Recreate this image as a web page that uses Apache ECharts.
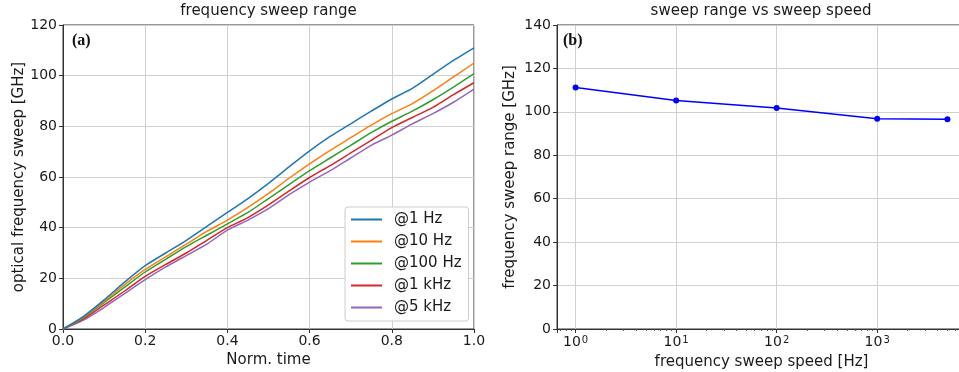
<!DOCTYPE html>
<html>
<head>
<meta charset="utf-8">
<script src="https://cdn.jsdelivr.net/npm/echarts@6/dist/echarts.min.js"></script>
<style>
  html, body { margin: 0; padding: 0; background: #fff; }
  #chart { width: 959px; height: 372px; }
</style>
</head>
<body>
<div id="chart"></div>
<script>
// panel (a): normalised time and sweep for each modulation speed
const normTime = [0, 0.05, 0.1, 0.15, 0.2, 0.25, 0.3, 0.35, 0.4, 0.45, 0.5,
  0.55, 0.6, 0.65, 0.7, 0.75, 0.8, 0.85, 0.9, 0.95, 1.0];
const sweep1Hz = [0, 5, 11.5, 18.5, 25, 30, 35, 40.5, 46, 51.5, 57.5,
  64, 70.3, 76, 81, 86, 90.8, 95, 100.5, 106, 111];
const sweep10Hz = [0, 4.8, 11, 17.5, 23.5, 28.5, 33.5, 38.5, 43, 48, 53.5,
  59.5, 65.2, 70.5, 75.5, 80.5, 85, 89, 94, 99.5, 105];
const sweep100Hz = [0, 4.5, 10.5, 16.5, 22.5, 27.5, 32.5, 37, 41.5, 46, 51.5,
  57, 62.5, 67.5, 72.5, 77.5, 82, 86, 90.5, 95.5, 100.8];
const sweep1kHz = [0, 4, 9.5, 15, 20.8, 25.5, 30, 35, 40, 44, 49,
  54.5, 59.8, 64.5, 69.5, 74.5, 79.5, 83.5, 87.5, 92.5, 97.2];
const sweep5kHz = [0, 3.5, 8.5, 14, 19.5, 24.5, 29, 33.5, 39, 43, 47.5,
  53, 58, 62.5, 67.5, 72.5, 76.5, 81, 85, 89.5, 94.7];
const seriesNames = ['@1 Hz', '@10 Hz', '@100 Hz', '@1 kHz', '@5 kHz'];
const seriesColors = ['#1f77b4', '#ff7f0e', '#2ca02c', '#d62728', '#9467bd'];

// panel (b): total sweep range against sweep speed
const speedHz = [1, 10, 100, 1000, 5000];
const rangeGHz = [111.2, 105.2, 101.8, 96.8, 96.6];

const leftYTicks = { min: 0, max: 120, interval: 20 };
const rightYTicks = { min: 0, max: 140, interval: 20 };

const font = 'DejaVu Sans';
const txt = '#1a1a1a';

const chart = echarts.init(document.getElementById('chart'));

const sweeps = [sweep1Hz, sweep10Hz, sweep100Hz, sweep1kHz, sweep5kHz];
const leftSeries = sweeps.map((vals, i) => ({
  name: seriesNames[i],
  type: 'line',
  xAxisIndex: 0,
  yAxisIndex: 0,
  symbol: 'none',
  smooth: 0.25,
  color: seriesColors[i],
  lineStyle: { width: 1.5, color: seriesColors[i] },
  data: normTime.map((t, k) => [t, vals[k]]),
  z: 5 - i
}));

const axisCommon = {
  axisLine: { show: true, onZero: false, lineStyle: { color: '#333', width: 1 } },
  axisTick: { show: true, inside: false, length: 4, lineStyle: { color: '#333' } },
  splitLine: { show: true, lineStyle: { color: '#d0d0d0', width: 1 } },
  nameTextStyle: { fontFamily: font, fontSize: 15, color: txt },
};

chart.setOption({
  animation: false,
  textStyle: { fontFamily: font },
  grid: [
    { left: 63, top: 25, width: 411, height: 304, outerBoundsMode: 'none', show: true, borderColor: '#333', borderWidth: 1 },
    { left: 557, top: 25, width: 409, height: 304, outerBoundsMode: 'none', show: true, borderColor: '#333', borderWidth: 1 }
  ],
  legend: {
    data: seriesNames,
    orient: 'vertical',
    left: 345,
    top: 207,
    itemWidth: 31,
    itemHeight: 14,
    itemGap: 7,
    itemStyle: { opacity: 0 },
    padding: [5, 7, 6, 5],
    backgroundColor: '#fff',
    borderColor: '#ccc',
    borderWidth: 1,
    borderRadius: 3,
    textStyle: { fontFamily: font, fontSize: 15, color: txt, padding: [0, 0, 0, 7] }
  },
  xAxis: [
    Object.assign({}, axisCommon, {
      type: 'value', gridIndex: 0, min: 0, max: 1, interval: 0.2,
      name: 'Norm. time', nameLocation: 'middle', nameGap: 21,
      axisLabel: { fontFamily: font, fontSize: 14, color: txt, margin: 5,
        formatter: v => v.toFixed(1) }
    }),
    Object.assign({}, axisCommon, {
      type: 'log', logBase: 10, gridIndex: 1, min: 0.653, max: 7650,
      name: 'frequency sweep speed [Hz]', nameLocation: 'middle', nameGap: 26,
      minorTick: { show: true, splitNumber: 9, length: 2, lineStyle: { color: '#555' } },
      axisLabel: {
        fontFamily: font, fontSize: 14, color: txt, margin: 6,
        interval: 0, showMinLabel: false, showMaxLabel: false, hideOverlap: false,
        formatter: v => {
          const e = Math.log10(v);
          const r = Math.round(e);
          if (Math.abs(e - r) > 1e-6) return '';
          return '10{sup|' + r + '}';
        },
        rich: { sup: { fontFamily: font, fontSize: 10, color: txt, verticalAlign: 'top', padding: [0, 0, 0, 1] } }
      }
    })
  ],
  yAxis: [
    Object.assign({}, axisCommon, {
      type: 'value', gridIndex: 0,
      min: leftYTicks.min, max: leftYTicks.max, interval: leftYTicks.interval,
      name: 'optical frequency sweep [GHz]', nameLocation: 'middle', nameGap: 36,
      axisLabel: { fontFamily: font, fontSize: 14, color: txt, margin: 6 }
    }),
    Object.assign({}, axisCommon, {
      type: 'value', gridIndex: 1,
      min: rightYTicks.min, max: rightYTicks.max, interval: rightYTicks.interval,
      name: 'frequency sweep range [GHz]', nameLocation: 'middle', nameGap: 39,
      axisLabel: { fontFamily: font, fontSize: 14, color: txt, margin: 6 }
    })
  ],
  graphic: [
    { type: 'text', x: 268.5, y: 4, style: { text: 'frequency sweep range', fontFamily: font, fontSize: 15, fill: txt, align: 'center', verticalAlign: 'top' } },
    { type: 'text', x: 761, y: 4, style: { text: 'sweep range vs sweep speed', fontFamily: font, fontSize: 15, fill: txt, align: 'center', verticalAlign: 'top' } },
    { type: 'text', x: 72, y: 33, z: 10, style: { text: '(a)', fontFamily: 'Liberation Serif', fontWeight: 'bold', fontSize: 16, fill: '#111' } },
    { type: 'text', x: 563, y: 33, z: 10, style: { text: '(b)', fontFamily: 'Liberation Serif', fontWeight: 'bold', fontSize: 16, fill: '#111' } }
  ],
  series: leftSeries.concat([{
    name: 'range',
    type: 'line',
    xAxisIndex: 1,
    yAxisIndex: 1,
    symbol: 'circle',
    symbolSize: 6,
    color: '#0000ff',
    lineStyle: { width: 1.5, color: '#0000ff' },
    itemStyle: { color: '#0000ff' },
    data: speedHz.map((s, k) => [s, rangeGHz[k]])
  }])
});
</script>
</body>
</html>
